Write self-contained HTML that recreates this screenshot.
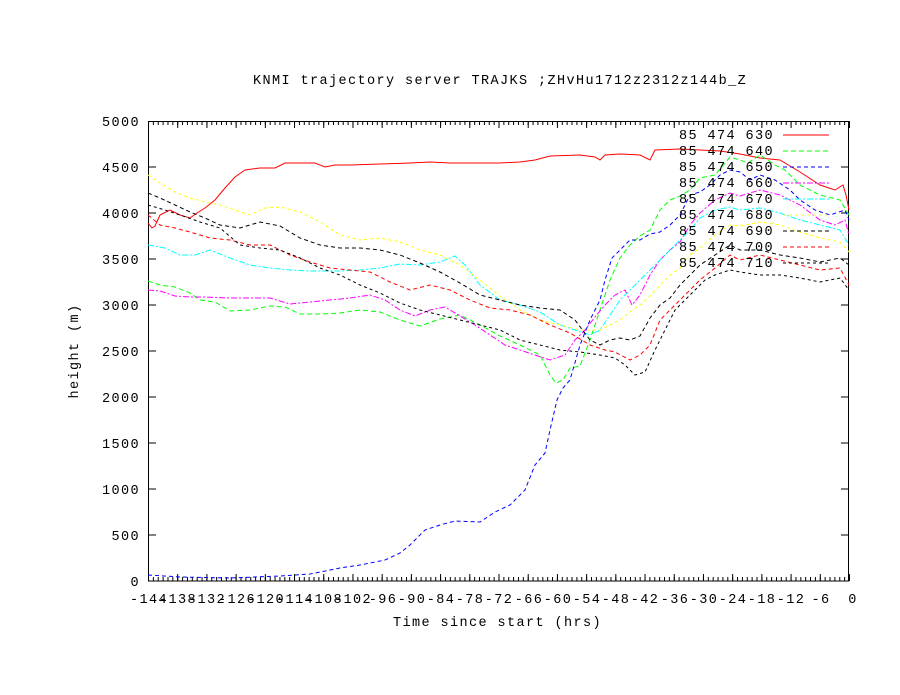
<!DOCTYPE html>
<html><head><meta charset="utf-8"><style>
html,body{margin:0;padding:0;background:#fff}
svg{display:block}
text{font-family:"Liberation Mono","DejaVu Sans Mono",monospace;font-size:13.5px;letter-spacing:1.4px;fill:#000}
</style></head><body>
<svg width="900" height="695" viewBox="0 0 900 695" xmlns="http://www.w3.org/2000/svg">
<defs>
<pattern id="minB" x="148" y="0" width="4.868" height="695" patternUnits="userSpaceOnUse"><line x1="0.5" y1="0" x2="0.5" y2="695" stroke="#000" stroke-width="1"/></pattern>
<pattern id="majB" x="148" y="0" width="29.208" height="695" patternUnits="userSpaceOnUse"><line x1="0.5" y1="0" x2="0.5" y2="695" stroke="#000" stroke-width="1"/></pattern>
</defs>
<text x="253" y="84">KNMI trajectory server TRAJKS ;ZHvHu1712z2312z144b_Z</text>
<rect x="148" y="577" width="702" height="4" fill="url(#minB)"/>
<rect x="148" y="574" width="702" height="7" fill="url(#majB)"/>
<rect x="148" y="121" width="702" height="4" fill="url(#minB)"/>
<rect x="148" y="121" width="702" height="7" fill="url(#majB)"/>
<g stroke="#000" stroke-width="1">
<path d="M148 535h8M148 489h8M148 443h8M148 397h8M148 351h8M148 305h8M148 259h8M148 213h8M148 167h8M841 535h8M841 489h8M841 443h8M841 397h8M841 351h8M841 305h8M841 259h8M841 213h8M841 167h8"/>
</g>
<rect x="148.5" y="121.5" width="700" height="459.5" fill="none" stroke="#000" stroke-width="1"/>
<g text-anchor="end">
<text x="140" y="586">0</text><text x="140" y="540">500</text><text x="140" y="494">1000</text><text x="140" y="448">1500</text><text x="140" y="402">2000</text><text x="140" y="356">2500</text><text x="140" y="310">3000</text><text x="140" y="264">3500</text><text x="140" y="218">4000</text><text x="140" y="172">4500</text><text x="140" y="126">5000</text>
</g>
<g text-anchor="middle">
<text x="149" y="603">-144</text><text x="178" y="603">-138</text><text x="207" y="603">-132</text><text x="237" y="603">-126</text><text x="266" y="603">-120</text><text x="295" y="603">-114</text><text x="324" y="603">-108</text><text x="353" y="603">-102</text><text x="383" y="603">-96</text><text x="412" y="603">-90</text><text x="441" y="603">-84</text><text x="470" y="603">-78</text><text x="499" y="603">-72</text><text x="529" y="603">-66</text><text x="558" y="603">-60</text><text x="587" y="603">-54</text><text x="616" y="603">-48</text><text x="645" y="603">-42</text><text x="675" y="603">-36</text><text x="704" y="603">-30</text><text x="733" y="603">-24</text><text x="762" y="603">-18</text><text x="791" y="603">-12</text><text x="821" y="603">-6</text><text x="853" y="603">0</text>
</g>
<text x="393" y="626">Time since start (hrs)</text>
<text x="78" y="351" text-anchor="middle" transform="rotate(-90 78 351)">height (m)</text>
<g fill="none" stroke-width="1">
<polyline stroke="#f00" points="148,223 152,228 155,226 160,215 170,210 180,215 190,218 197,213 205,208 215,200 225,188 235,177 245,170 260,168 275,168 285,163 300,163 315,163 325,167 335,165 350,165 380,164 410,163 430,162 450,163 480,163 500,163 520,162 535,160 550,156 580,155 595,157 600,160 605,155 620,154 640,155 650,160 655,150 680,149 700,150 720,151 740,154 760,158 780,160 800,172 820,185 835,190 843,185 846,195 849,210"/>
<polyline stroke="#0f0" stroke-dasharray="5,3" points="148,281 160,285 175,287 190,293 200,300 215,302 230,311 250,310 270,306 285,307 300,314 320,314 340,313 360,310 380,312 400,320 420,326 440,319 460,315 480,325 500,336 520,345 540,355 550,375 556,383 563,380 570,368 580,366 590,340 600,310 610,280 620,258 630,245 640,236 650,230 660,210 670,200 680,196 690,190 700,178 715,175 730,157 740,160 748,163 760,155 775,165 785,170 800,185 820,195 840,200 849,215"/>
<polyline stroke="#00f" stroke-dasharray="4,3" points="148,575 180,577 230,578 280,576 310,574 340,568 360,565 385,560 400,553 410,545 425,530 440,525 455,521 480,522 495,512 510,505 525,490 535,465 545,453 550,430 557,400 563,388 570,380 580,345 590,320 600,300 605,280 612,258 620,250 630,240 640,240 650,234 660,232 670,225 680,215 690,195 700,192 710,185 720,175 730,170 740,172 750,180 760,175 775,180 790,190 800,200 815,210 830,215 845,210 849,220"/>
<polyline stroke="#f0f" stroke-dasharray="6,2,2,2" points="148,290 160,291 175,296 190,297 205,297 230,298 250,298 270,298 290,304 310,302 330,300 350,298 370,295 385,300 400,310 415,316 430,310 445,307 460,316 475,325 490,335 505,345 520,350 535,355 550,360 565,355 575,340 585,330 595,317 605,305 615,295 625,290 632,305 640,295 650,275 660,260 670,250 680,242 690,225 700,213 715,200 730,193 740,196 760,190 780,195 800,205 820,220 835,225 845,220 849,235"/>
<polyline stroke="#0ff" stroke-dasharray="6,2,2,2" points="148,245 165,248 180,255 195,255 210,250 230,258 250,265 270,268 290,270 310,271 340,271 360,270 380,268 400,264 420,265 440,262 455,256 465,265 480,285 500,300 520,305 540,312 560,325 575,330 590,335 600,330 610,315 620,300 630,290 640,280 650,270 660,260 670,250 680,240 690,230 700,218 715,210 730,207 740,210 760,208 780,213 800,220 820,225 840,230 849,245"/>
<polyline stroke="#ff0" stroke-dasharray="3,3" points="148,175 160,183 175,192 190,198 205,202 220,205 235,210 250,215 265,208 280,207 300,212 320,222 340,235 360,240 380,238 400,242 420,250 440,255 460,265 480,280 500,296 520,310 540,320 560,325 580,330 600,330 610,325 620,320 630,312 640,305 650,296 660,285 670,275 680,268 690,255 700,248 715,235 730,225 740,226 760,222 780,225 800,232 820,238 840,242 849,252"/>
<polyline stroke="#000" stroke-dasharray="4,3" points="148,193 160,198 175,205 190,212 205,218 220,225 240,228 260,222 280,226 300,238 320,245 340,248 360,248 380,250 400,255 420,263 440,272 460,283 480,295 500,300 520,305 540,308 560,310 575,320 590,340 600,345 610,340 620,338 630,340 640,336 650,318 660,305 670,298 680,285 690,275 700,265 715,255 730,245 740,250 760,250 780,255 800,258 820,262 840,258 849,265"/>
<polyline stroke="#f00" stroke-dasharray="4,3" points="148,215 160,225 175,228 190,232 210,238 230,240 250,245 270,245 290,255 310,262 330,268 350,270 370,272 390,282 410,290 430,285 450,290 470,300 490,308 510,310 530,315 550,325 570,333 590,345 605,350 615,352 630,360 640,355 650,345 660,320 670,310 680,300 690,290 700,280 715,268 730,255 740,260 760,255 780,260 800,265 820,270 840,268 849,285"/>
<polyline stroke="#000" stroke-dasharray="3,3" points="148,205 165,210 180,215 200,222 220,228 240,245 260,248 280,250 300,258 320,268 340,275 360,285 380,293 400,303 420,310 440,315 460,320 480,325 500,330 520,340 540,345 560,350 580,352 600,355 615,358 625,365 635,375 645,372 655,350 665,330 675,310 685,300 695,290 705,280 715,275 730,270 740,272 760,275 780,275 800,278 820,282 840,278 849,290"/>
</g>
<g>
<text x="679" y="139">85 474 630</text><text x="679" y="155">85 474 640</text><text x="679" y="171">85 474 650</text><text x="679" y="187">85 474 660</text><text x="679" y="203">85 474 670</text><text x="679" y="219">85 474 680</text><text x="679" y="235">85 474 690</text><text x="679" y="251">85 474 700</text><text x="679" y="267">85 474 710</text>
</g>
<g stroke-width="1">
<line x1="783" y1="135" x2="829" y2="135" stroke="#f00"/>
<line x1="783" y1="151" x2="829" y2="151" stroke="#0f0" stroke-dasharray="5,3"/>
<line x1="783" y1="167" x2="829" y2="167" stroke="#00f" stroke-dasharray="4,3"/>
<line x1="783" y1="183" x2="829" y2="183" stroke="#f0f" stroke-dasharray="6,2,2,2"/>
<line x1="783" y1="199" x2="829" y2="199" stroke="#0ff" stroke-dasharray="6,2,2,2"/>
<line x1="783" y1="215" x2="829" y2="215" stroke="#ff0" stroke-dasharray="3,3"/>
<line x1="783" y1="231" x2="829" y2="231" stroke="#000" stroke-dasharray="4,3"/>
<line x1="783" y1="247" x2="829" y2="247" stroke="#f00" stroke-dasharray="4,3"/>
<line x1="783" y1="263" x2="829" y2="263" stroke="#000" stroke-dasharray="3,3"/>
</g>
</svg>
</body></html>
